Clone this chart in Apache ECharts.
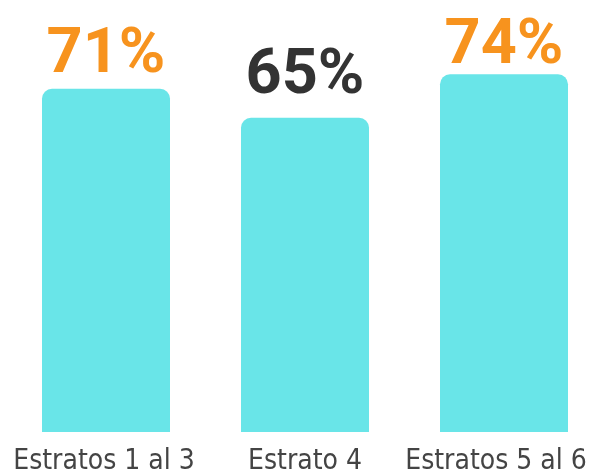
<!DOCTYPE html>
<html>
<head>
<meta charset="utf-8">
<script src="https://cdn.jsdelivr.net/npm/echarts@6/dist/echarts.min.js"></script>
<style>
  html, body { margin: 0; padding: 0; background: #fff; }
  #chart { width: 592px; height: 476px; }
</style>
</head>
<body>
<div id="chart"></div>
<script>
// datos
const categories = ['Estratos 1 al 3', 'Estrato 4', 'Estratos 5 al 6'];
const values = [71, 65, 74];
const labelColors = ['#F7931E', '#333333', '#F7931E'];
const labelGaps = [6, 14, 1];
// el ultimo rotulo se corre a la izquierda para que quepa
const axisPadRight = [4, 0, 16];

const chart = echarts.init(document.getElementById('chart'));

const option = {
  backgroundColor: '#fff',
  animation: false,
  grid: {
    left: 6.5,
    width: 597,
    top: 45.33,
    bottom: 44,
    containLabel: false,
    outerBoundsMode: 'none'
  },
  xAxis: {
    type: 'category',
    data: categories.map(function (c, i) {
      return { value: c, textStyle: { padding: [0, axisPadRight[i], 0, 0] } };
    }),
    axisLine: { show: false },
    axisTick: { show: false },
    axisLabel: {
      interval: 0,
      hideOverlap: false,
      margin: 16,
      fontFamily: '"Liberation Sans Narrow", "DejaVu Sans Condensed", sans-serif',
      fontSize: 28,
      color: '#444'
    }
  },
  yAxis: {
    type: 'value',
    min: 0,
    max: 80,
    show: false,
    splitLine: { show: false }
  },
  series: [{
    type: 'bar',
    barWidth: 128,
    itemStyle: {
      color: '#69E5E8',
      borderRadius: [10, 10, 0, 0]
    },
    data: values.map(function (v, i) {
      return {
        value: v,
        label: {
          show: true,
          position: 'top',
          distance: labelGaps[i],
          offset: [0, 5],
          formatter: '{c}%',
          color: labelColors[i],
          fontFamily: 'Roboto, sans-serif',
          fontWeight: 'bold',
          fontSize: 63
        }
      };
    })
  }]
};

chart.setOption(option);
</script>
</body>
</html>
